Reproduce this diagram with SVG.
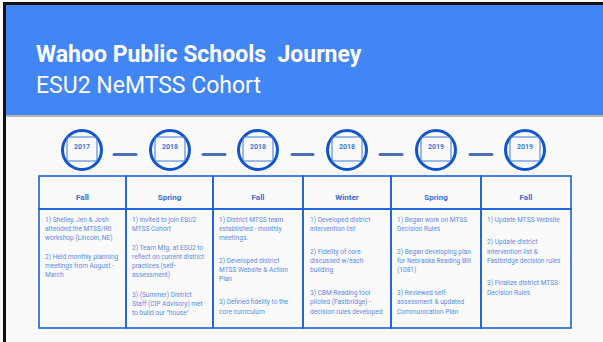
<svg xmlns="http://www.w3.org/2000/svg" width="603" height="342" viewBox="0 0 603 342">
<style>
.title{font-family:Roboto,"Liberation Sans",sans-serif;fill:#fff;font-size:23px;white-space:pre}
.yr{font-family:Roboto,"Liberation Sans",sans-serif;font-weight:bold;font-size:7px;fill:#3c78d8;text-anchor:middle}
.circ{fill:none;stroke:#1155cc;stroke-width:3}
.yrbox{fill:none;stroke:#3c78d8;stroke-width:1}
.dash{stroke:#4a6fb8;stroke-width:3;stroke-linecap:round}
.cell{fill:none;stroke:#1c62dc;stroke-width:1.6}
.hd{font-family:Roboto,"Liberation Sans",sans-serif;font-weight:bold;font-size:8px;fill:#3a6cd6;text-anchor:middle}
.bt{font-family:Roboto,"Liberation Sans",sans-serif;font-size:6.6px;fill:#5b8be6}
</style>
<rect x="0" y="0" width="603" height="342" fill="#fafafa"/>
<rect x="6" y="5" width="597" height="110" fill="#4285f4"/>
<rect x="6" y="115" width="597" height="2" fill="#b5b5b5"/>
<rect x="3" y="2" width="600" height="3" fill="#111"/>
<rect x="3" y="2" width="3" height="340" fill="#111"/>
<text class="title" x="36" y="62" font-weight="bold" xml:space="preserve">Wahoo Public Schools  Journey</text>
<text class="title" x="36" y="93">ESU2 NeMTSS Cohort</text>

<g id="connectors">
<line class="dash" x1="114" y1="154.5" x2="136" y2="154.5"/>
<line class="dash" x1="203" y1="154.5" x2="225" y2="154.5"/>
<line class="dash" x1="292" y1="154.5" x2="313" y2="154.5"/>
<line class="dash" x1="380" y1="154.5" x2="402" y2="154.5"/>
<line class="dash" x1="470" y1="154.5" x2="492" y2="154.5"/>
</g>

<g id="y1"><circle class="circ" cx="82" cy="150" r="19.5"/><rect class="yrbox" x="67" y="137" width="30" height="24"/><text class="yr" x="82" y="148.5">2017</text></g>
<g id="y2"><circle class="circ" cx="170" cy="150" r="19.5"/><rect class="yrbox" x="155" y="137" width="30" height="24"/><text class="yr" x="170" y="148.5">2018</text></g>
<g id="y3"><circle class="circ" cx="258" cy="150" r="19.5"/><rect class="yrbox" x="243" y="137" width="30" height="24"/><text class="yr" x="258" y="148.5">2018</text></g>
<g id="y4"><circle class="circ" cx="347" cy="150" r="19.5"/><rect class="yrbox" x="332" y="137" width="30" height="24"/><text class="yr" x="347" y="148.5">2018</text></g>
<g id="y5"><circle class="circ" cx="436" cy="150" r="19.5"/><rect class="yrbox" x="421" y="137" width="30" height="24"/><text class="yr" x="436" y="148.5">2019</text></g>
<g id="y6"><circle class="circ" cx="525" cy="150" r="19.5"/><rect class="yrbox" x="510" y="137" width="30" height="24"/><text class="yr" x="525" y="148.5">2019</text></g>

<g id="c1">
<rect class="cell" x="39" y="176" width="87" height="33"/><rect class="cell" x="39" y="209" width="87" height="119"/>
<text class="hd" x="82.5" y="199.5">Fall</text>
<text class="bt" x="45" y="221.8">1) Shelley, Jen &amp; Josh</text>
<text class="bt" x="45" y="230.8">attended the MTSS/RtI</text>
<text class="bt" x="45" y="239.8">workshop (Lincoln, NE)</text>
<text class="bt" x="45" y="259.2">2) Held monthly planning</text>
<text class="bt" x="45" y="268.2">meetings from August -</text>
<text class="bt" x="45" y="277.2">March</text>
</g>
<g id="c2">
<rect class="cell" x="126" y="176" width="87" height="33"/><rect class="cell" x="126" y="209" width="87" height="119"/>
<text class="hd" x="169.5" y="199.5">Spring</text>
<text class="bt" x="132" y="221.8">1) Invited to join ESU2</text>
<text class="bt" x="132" y="230.8">MTSS Cohort</text>
<text class="bt" x="132" y="249.8">2) Team Mtg. at ESU2 to</text>
<text class="bt" x="132" y="258.8">reflect on current district</text>
<text class="bt" x="132" y="267.8">practices (self-</text>
<text class="bt" x="132" y="276.8">assessment)</text>
<text class="bt" x="132" y="296.8">3) (Summer) District</text>
<text class="bt" x="132" y="305.8">Staff (CIP Advisory) met</text>
<text class="bt" x="132" y="314.8">to build our "house"</text>
</g>
<g id="c3">
<rect class="cell" x="213" y="176" width="90" height="33"/><rect class="cell" x="213" y="209" width="90" height="119"/>
<text class="hd" x="258" y="199.5">Fall</text>
<text class="bt" x="219" y="221.8">1) District MTSS team</text>
<text class="bt" x="219" y="231">established - monthly</text>
<text class="bt" x="219" y="240.2">meetings.</text>
<text class="bt" x="219" y="262.5">2) Developed district</text>
<text class="bt" x="219" y="271.7">MTSS Website &amp; Action</text>
<text class="bt" x="219" y="280.9">Plan</text>
<text class="bt" x="219" y="304.2">3) Defined fidelity to the</text>
<text class="bt" x="219" y="314">core curriculum</text>
</g>
<g id="c4">
<rect class="cell" x="303" y="176" width="88" height="33"/><rect class="cell" x="303" y="209" width="88" height="119"/>
<text class="hd" x="347" y="199.5">Winter</text>
<text class="bt" x="310" y="221.8">1) Developed district</text>
<text class="bt" x="310" y="230.8">intervention list</text>
<text class="bt" x="310" y="253.8">2) Fidelity of core</text>
<text class="bt" x="310" y="263">discussed w/each</text>
<text class="bt" x="310" y="272.2">building</text>
<text class="bt" x="310" y="295.2">3) CBM-Reading tool</text>
<text class="bt" x="310" y="304.4">piloted (Fastbridge) -</text>
<text class="bt" x="310" y="313.6">decision rules developed</text>
</g>
<g id="c5">
<rect class="cell" x="391" y="176" width="90" height="33"/><rect class="cell" x="391" y="209" width="90" height="119"/>
<text class="hd" x="436" y="199.5">Spring</text>
<text class="bt" x="397" y="221.8">1) Began work on MTSS</text>
<text class="bt" x="397" y="230.8">Decision Rules</text>
<text class="bt" x="397" y="253.8">2) Began developing plan</text>
<text class="bt" x="397" y="263">for Nebraska Reading Bill</text>
<text class="bt" x="397" y="272.2">(1081)</text>
<text class="bt" x="397" y="295.2">3) Reviewed self-</text>
<text class="bt" x="397" y="304.4">assessment &amp; updated</text>
<text class="bt" x="397" y="313.6">Communication Plan</text>
</g>
<g id="c6">
<rect class="cell" x="481" y="176" width="90" height="33"/><rect class="cell" x="481" y="209" width="90" height="119"/>
<text class="hd" x="526" y="199.5">Fall</text>
<text class="bt" x="487" y="222.3">1) Update MTSS Website</text>
<text class="bt" x="487" y="244.2">2) Update district</text>
<text class="bt" x="487" y="254">intervention list &amp;</text>
<text class="bt" x="487" y="263.4">Fastbridge decision rules</text>
<text class="bt" x="487" y="285.2">3) Finalize district MTSS</text>
<text class="bt" x="487" y="295">Decision Rules</text>
</g>
</svg>
